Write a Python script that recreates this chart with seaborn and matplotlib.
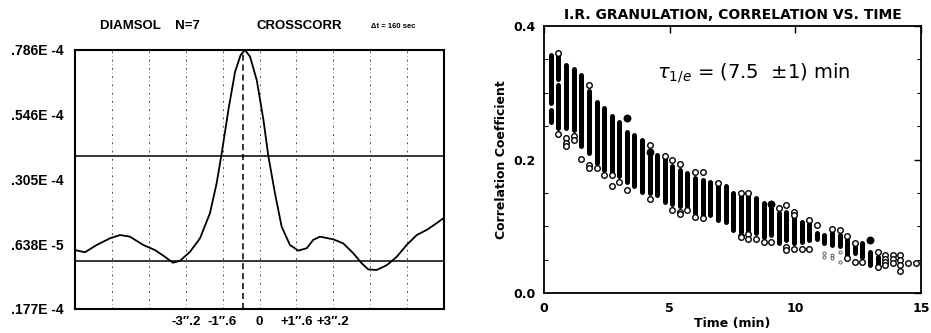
import numpy as np
import matplotlib
matplotlib.use("Agg")
import matplotlib.pyplot as plt
from matplotlib.ticker import MultipleLocator
import seaborn as sns

# ---------------- Left panel: cross-correlation curve (units of 1e-5) ----------------
lag = [-8.0, -7.57, -7.06, -6.48, -6.05, -5.62, -5.04, -4.53, -4.10, -3.76, -3.45,
       -3.01, -2.58, -2.15, -1.86, -1.64, -1.35, -1.06, -0.82, -0.63, -0.41, -0.12,
       0.17, 0.38, 0.67, 0.96, 1.32, 1.68, 2.05, 2.33, 2.62, 3.20, 3.63, 4.07, 4.43,
       4.72, 5.08, 5.52, 5.95, 6.38, 6.82, 7.25, 7.68, 7.97]
cc = [0.42, 0.34, 0.61, 0.86, 0.98, 0.92, 0.61, 0.42, 0.17, -0.05, 0.02,
      0.36, 0.86, 1.79, 2.90, 4.02, 5.63, 7.05, 7.67, 7.86, 7.61, 6.74,
      5.26, 3.93, 2.53, 1.29, 0.61, 0.40, 0.49, 0.80, 0.92, 0.82, 0.67, 0.30, -0.07,
      -0.30, -0.32, -0.14, 0.17, 0.61, 0.98, 1.17, 1.42, 1.60]
ytick_vals = [7.86, 5.46, 3.05, 0.638, -1.77]
ytick_text = [".786E -4", ".546E -4", ".305E -4", ".638E -5", ".177E -4"]
xtick_vals = [-3.2, -1.6, 0, 1.6, 3.2]
xtick_text = ["-3\u2033.2", "-1\u2033.6", "0", "+1\u2033.6", "+3\u2033.2"]
grid_x = [-6.4, -4.8, -3.2, -1.6, 0, 1.6, 3.2, 4.8, 6.4]
peak_lag = -0.7
half_level = 3.93
zero_level = 0.0

# ---------------- Right panel: correlation vs time ----------------
times = [0.27, 0.57, 0.88, 1.18, 1.48, 1.78, 2.09, 2.39, 2.69, 2.99, 3.29, 3.60, 3.90,
         4.20, 4.50, 4.81, 5.11, 5.41, 5.71, 6.02, 6.32, 6.62, 6.92, 7.23, 7.53, 7.83,
         8.13, 8.44, 8.74, 9.04, 9.34, 9.65, 9.95, 10.25, 10.55, 10.86, 11.16, 11.46,
         11.76, 12.07, 12.37, 12.67, 12.97, 13.28, 13.58, 13.88, 14.18, 14.49, 14.79]
band_col = [0, 0, 1, 1, 2, 3, 4, 5, 6, 7, 8, 9, 10, 11, 12, 13, 14, 15, 16, 17, 18, 19,
            20, 21, 22, 23, 24, 25, 26, 27, 28, 29, 30, 31, 32, 33, 34, 35, 36, 37, 38,
            39, 40, 41, 42, 43]
band_lo = [0.285, 0.257, 0.247, 0.320, 0.247, 0.245, 0.220, 0.210, 0.195, 0.185, 0.182,
           0.175, 0.167, 0.160, 0.152, 0.150, 0.147, 0.137, 0.133, 0.130, 0.130, 0.120,
           0.117, 0.117, 0.110, 0.107, 0.095, 0.092, 0.095, 0.090, 0.085, 0.087, 0.075,
           0.080, 0.075, 0.077, 0.080, 0.082, 0.075, 0.073, 0.071, 0.057, 0.060, 0.055,
           0.042, 0.042]
band_hi = [0.357, 0.275, 0.312, 0.355, 0.342, 0.336, 0.327, 0.303, 0.287, 0.277, 0.266,
           0.257, 0.242, 0.237, 0.230, 0.213, 0.207, 0.203, 0.190, 0.185, 0.180, 0.172,
           0.170, 0.167, 0.160, 0.160, 0.150, 0.145, 0.145, 0.142, 0.135, 0.127, 0.120,
           0.122, 0.112, 0.107, 0.104, 0.090, 0.087, 0.090, 0.088, 0.080, 0.070, 0.075,
           0.062, 0.055]
open_col = [1, 1, 2, 2, 2, 3, 3, 4, 5, 5, 5, 6, 7, 8, 8, 9, 10, 13, 13, 15, 16, 16,
            17, 17, 17, 18, 19, 19, 20, 20, 22, 25, 25, 25, 26, 26, 26, 27, 28, 29, 30,
            31, 31, 31, 32, 32, 32, 33, 34, 34, 35, 37, 38, 39, 39, 40, 40, 41, 43, 43,
            44, 44, 44, 44, 45, 45, 45, 46, 46, 46, 46, 47, 48]
open_val = [0.359, 0.238, 0.232, 0.225, 0.220, 0.235, 0.230, 0.201, 0.312, 0.192, 0.187,
            0.187, 0.177, 0.177, 0.160, 0.167, 0.155, 0.222, 0.141, 0.206, 0.200, 0.125,
            0.193, 0.122, 0.118, 0.124, 0.181, 0.114, 0.181, 0.112, 0.165, 0.150, 0.086,
            0.084, 0.150, 0.089, 0.082, 0.082, 0.077, 0.077, 0.127, 0.132, 0.070, 0.065,
            0.122, 0.117, 0.066, 0.066, 0.110, 0.066, 0.102, 0.096, 0.094, 0.086, 0.053,
            0.075, 0.047, 0.047, 0.062, 0.040, 0.057, 0.052, 0.047, 0.042, 0.057, 0.052,
            0.045, 0.057, 0.050, 0.042, 0.034, 0.045, 0.045]
filled_col = [10, 13, 29, 42]
filled_val = [0.262, 0.212, 0.133, 0.080]
faint_col = [36, 36, 37, 37, 38, 38]
faint_val = [0.060, 0.055, 0.058, 0.053, 0.062, 0.047]

# ---------------- Figure ----------------
sns.set_style("white")
plt.rcParams["font.family"] = ["DejaVu Sans"]
plt.rcParams["text.color"] = "black"
plt.rcParams["axes.labelcolor"] = "black"
plt.rcParams["xtick.color"] = "black"
plt.rcParams["ytick.color"] = "black"

fig = plt.figure(figsize=(9.31, 3.33), dpi=100)

# Left panel
ax1 = fig.add_axes([0.0806, 0.0721, 0.3963, 0.7778])
for g in grid_x:
    ax1.axvline(g, color="0.3", lw=0.7, ls=(0, (2, 3, 0.5, 3)), zorder=1)
ax1.axvline(peak_lag, color="black", lw=1.1, ls=(0, (4, 2.5)), zorder=2)
ax1.axhline(half_level, color="black", lw=1.1, zorder=2)
ax1.axhline(zero_level, color="black", lw=1.1, zorder=2)
sns.lineplot(x=lag, y=cc, ax=ax1, color="black", lw=1.3, sort=False, zorder=3)
ax1.set_xlim(-8, 8)
ax1.set_ylim(-1.77, 7.86)
ax1.set_yticks(ytick_vals)
ax1.set_yticklabels(ytick_text, fontsize=10, fontweight="bold", family="Liberation Sans")
ax1.set_xticks(xtick_vals)
ax1.set_xticklabels(xtick_text, fontsize=9.5, fontweight="bold", family="Liberation Sans")
ax1.tick_params(axis="both", length=0)
ax1.tick_params(axis="y", pad=8)
ax1.tick_params(axis="x", pad=5)
ax1.set_xlabel("")
ax1.set_ylabel("")
for sp in ax1.spines.values():
    sp.set_linewidth(1.5)
    sp.set_color("black")
fig.text(100 / 931, 1 - 26 / 333, "DIAMSOL    N=7", fontsize=9.5, fontweight="bold",
         family="Liberation Sans", ha="left", va="center")
fig.text(299 / 931, 1 - 26 / 333, "CROSSCORR", fontsize=9.5, fontweight="bold",
         family="Liberation Sans", ha="center", va="center")
fig.text(393 / 931, 1 - 27 / 333, "\u0394t = 160 sec", fontsize=5.5, fontweight="bold",
         family="Liberation Sans", ha="center", va="center")

# Right panel
ax2 = fig.add_axes([0.5843, 0.1192, 0.4049, 0.8027])
bt = [times[c] for c in band_col]
lc = ax2.vlines(bt, band_lo, band_hi, colors="black", lw=3.6, zorder=2)
lc.set_capstyle("round")
sns.scatterplot(x=[times[c] for c in open_col], y=open_val, ax=ax2, marker="o", s=16,
                facecolor="white", edgecolor="black", linewidth=1.0, zorder=3)
sns.scatterplot(x=[times[c] for c in filled_col], y=filled_val, ax=ax2, marker="o", s=22,
                facecolor="black", edgecolor="black", linewidth=1.0, zorder=3)
sns.scatterplot(x=[times[c] for c in faint_col], y=faint_val, ax=ax2, marker="o", s=5,
                facecolor="white", edgecolor="0.3", linewidth=0.6, zorder=3)
ax2.set_xlim(0, 15)
ax2.set_ylim(0, 0.4)
ax2.set_xticks([0, 5, 10, 15])
ax2.set_xticklabels(["0", "5", "10", "15"])
ax2.set_yticks([0.0, 0.2, 0.4])
ax2.set_yticklabels(["0.0", "0.2", "0.4"])
ax2.yaxis.set_minor_locator(MultipleLocator(0.05))
ax2.tick_params(axis="both", which="major", direction="in", length=5, width=1,
                top=True, right=True, labelsize=9, pad=6)
ax2.tick_params(axis="both", which="minor", direction="in", length=3, width=0.8,
                right=True, left=True)
for lab in ax2.get_xticklabels() + ax2.get_yticklabels():
    lab.set_fontweight("bold")
ax2.set_xlabel("Time (min)", fontsize=9, fontweight="bold", labelpad=2)
ax2.set_ylabel("Correlation Coefficient", fontsize=9, fontweight="bold", labelpad=4)
ax2.set_title("I.R. GRANULATION, CORRELATION VS. TIME", fontsize=10, fontweight="bold",
              pad=5)
for sp in ax2.spines.values():
    sp.set_linewidth(1.3)
    sp.set_color("black")
ax2.text(4.5, 0.330, r"$\tau_{1/e}$ = (7.5  $\pm$1) min", fontsize=14, ha="left",
         va="center")

fig.savefig("out.png", dpi=100)
